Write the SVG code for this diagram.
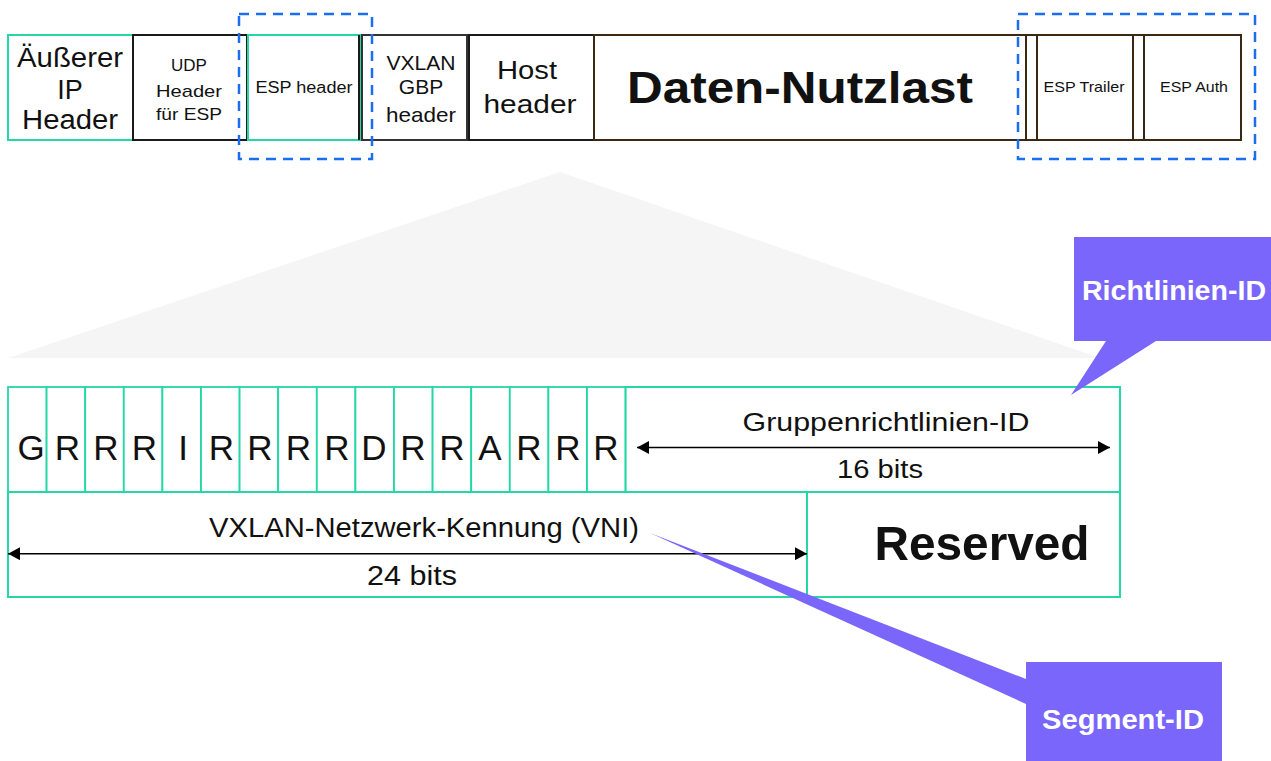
<svg xmlns="http://www.w3.org/2000/svg" width="1271" height="761" viewBox="0 0 1271 761">
<style>
.t{font-family:"Liberation Sans",Arial,sans-serif;fill:#111;text-anchor:middle}
.b{font-weight:bold}
.teal{fill:#fff;stroke:#23D8A6;stroke-width:2}
.blk{fill:#fff;stroke:#1a1a1a;stroke-width:2}
.gry{fill:#fff;stroke:#333;stroke-width:2}
.brn{fill:#fff;stroke:#3a2812;stroke-width:2}
.dash{fill:none;stroke:#1a6ff0;stroke-width:2.5;stroke-dasharray:10 7}
.cell{fill:#fff;stroke:#23D8A6;stroke-width:1.8}
.arr{stroke:#000;stroke-width:1.5;fill:none}
.call{fill:#7A66FB}
.ct{font-family:"Liberation Sans",Arial,sans-serif;fill:#fff;font-weight:bold;text-anchor:middle}
</style>
<defs>
<marker id="ah" markerUnits="userSpaceOnUse" markerWidth="12" markerHeight="13" refX="12" refY="6.5" orient="auto-start-reverse">
<path d="M0,0 L12,6.5 L0,13 Z" fill="#000"/>
</marker>
</defs>
<rect width="1271" height="761" fill="#fff"/>
<polygon id="zoom-wedge" points="560,172 1100,358 8,358" fill="#f5f5f5"/>

<g id="outer-ip"><rect class="teal" x="8" y="35" width="125" height="105"/>
<text class="t" font-size="27" x="70" y="67" textLength="106" lengthAdjust="spacingAndGlyphs">Äußerer</text>
<text class="t" font-size="27" x="70" y="99">IP</text>
<text class="t" font-size="27" x="70" y="129" textLength="96" lengthAdjust="spacingAndGlyphs">Header</text></g>
<g id="udp"><rect class="blk" x="133" y="35" width="114" height="105"/>
<text class="t" font-size="17" x="189" y="71">UDP</text>
<text class="t" font-size="17" x="189" y="97" textLength="66" lengthAdjust="spacingAndGlyphs">Header</text>
<text class="t" font-size="17" x="189" y="120" textLength="66" lengthAdjust="spacingAndGlyphs">für ESP</text></g>
<g id="esp-header"><rect class="teal" x="248" y="35" width="113" height="105"/>
<line x1="359" y1="35" x2="359" y2="140" stroke="#1a1a1a" stroke-width="2"/>
<text class="t" font-size="16" x="304" y="93" textLength="97" lengthAdjust="spacingAndGlyphs">ESP header</text></g>
<g id="vxlan-gbp"><rect class="gry" x="362" y="35" width="105" height="105"/>
<text class="t" font-size="21" x="421" y="70" textLength="69" lengthAdjust="spacingAndGlyphs">VXLAN</text>
<text class="t" font-size="21" x="421" y="94">GBP</text>
<text class="t" font-size="21" x="421" y="122" textLength="70" lengthAdjust="spacingAndGlyphs">header</text></g>
<g id="host-header"><rect class="blk" x="469" y="35" width="125" height="105"/>
<text class="t" font-size="26" x="527" y="79" textLength="60" lengthAdjust="spacingAndGlyphs">Host</text>
<text class="t" font-size="26" x="530" y="113" textLength="93" lengthAdjust="spacingAndGlyphs">header</text></g>
<g id="payload"><rect class="brn" x="594" y="35" width="432" height="105"/>
<text class="t b" font-size="45" x="800" y="103" textLength="346" lengthAdjust="spacingAndGlyphs">Daten-Nutzlast</text></g>
<g id="pad1"><rect class="brn" x="1026" y="35" width="11" height="105"/></g>
<g id="esp-trailer"><rect class="brn" x="1037" y="35" width="96" height="105"/>
<text class="t" font-size="15" x="1084" y="92" textLength="81" lengthAdjust="spacingAndGlyphs">ESP Trailer</text></g>
<g id="pad2"><rect class="brn" x="1133" y="35" width="11" height="105"/></g>
<g id="esp-auth"><rect class="brn" x="1144" y="35" width="97" height="105"/>
<text class="t" font-size="15" x="1194" y="92" textLength="68" lengthAdjust="spacingAndGlyphs">ESP Auth</text></g>
<g id="esp-group-1"><rect class="dash" x="239" y="14" width="133" height="145"/></g>
<g id="esp-group-2"><rect class="dash" x="1018" y="14" width="237" height="145"/></g>

<g id="flags">
<rect class="cell" x="8" y="387" width="38.6" height="105"/>
<rect class="cell" x="46.6" y="387" width="38.6" height="105"/>
<rect class="cell" x="85.2" y="387" width="38.6" height="105"/>
<rect class="cell" x="123.8" y="387" width="38.6" height="105"/>
<rect class="cell" x="162.4" y="387" width="38.6" height="105"/>
<rect class="cell" x="201" y="387" width="38.6" height="105"/>
<rect class="cell" x="239.6" y="387" width="38.6" height="105"/>
<rect class="cell" x="278.2" y="387" width="38.6" height="105"/>
<rect class="cell" x="316.8" y="387" width="38.6" height="105"/>
<rect class="cell" x="355.4" y="387" width="38.6" height="105"/>
<rect class="cell" x="394" y="387" width="38.6" height="105"/>
<rect class="cell" x="432.6" y="387" width="38.6" height="105"/>
<rect class="cell" x="471.2" y="387" width="38.6" height="105"/>
<rect class="cell" x="509.8" y="387" width="38.6" height="105"/>
<rect class="cell" x="548.4" y="387" width="38.6" height="105"/>
<rect class="cell" x="587" y="387" width="38.6" height="105"/>
<g class="t" font-size="35">
<text x="31" y="460">G</text><text x="67.5" y="460">R</text><text x="106" y="460">R</text><text x="144.5" y="460">R</text>
<text x="183" y="460">I</text><text x="221.5" y="460">R</text><text x="260" y="460">R</text><text x="298.5" y="460">R</text>
<text x="337" y="460">R</text><text x="374" y="460">D</text><text x="413" y="460">R</text><text x="452" y="460">R</text>
<text x="490" y="460">A</text><text x="529" y="460">R</text><text x="568" y="460">R</text><text x="606" y="460">R</text>
</g></g>
<g id="group-policy-id"><rect class="teal" x="625.6" y="387" width="494.4" height="105"/>
<text class="t" font-size="26" x="886" y="431" textLength="287" lengthAdjust="spacingAndGlyphs">Gruppenrichtlinien-ID</text>
<text class="t" font-size="26" x="880" y="478" textLength="86" lengthAdjust="spacingAndGlyphs">16 bits</text></g>
<g id="vni"><rect class="teal" x="8" y="492" width="799" height="105"/>
<text class="t" font-size="27" x="424" y="537" textLength="430" lengthAdjust="spacingAndGlyphs">VXLAN-Netzwerk-Kennung (VNI)</text>
<text class="t" font-size="27" x="412" y="585" textLength="90" lengthAdjust="spacingAndGlyphs">24 bits</text></g>
<g id="reserved"><rect class="teal" x="807" y="492" width="313" height="105"/>
<text class="t b" font-size="49" x="982" y="560" textLength="215" lengthAdjust="spacingAndGlyphs">Reserved</text></g>

<g id="connectors">
<line class="arr" x1="637" y1="447.5" x2="1110" y2="447.5" marker-start="url(#ah)" marker-end="url(#ah)"/>
<line class="arr" x1="8" y1="553.7" x2="807" y2="553.7" marker-start="url(#ah)" marker-end="url(#ah)"/>
</g>

<g id="callout-richtlinien"><path class="call" d="M1074,237 H1271 V341 H1156 L1071,395 L1106,341 H1074 Z"/>
<text class="ct" font-size="27" x="1174" y="300" textLength="184" lengthAdjust="spacingAndGlyphs">Richtlinien-ID</text></g>
<g id="callout-segment"><path class="call" d="M1026,662 H1222 V761 H1026 V704 L650,533 L1026,679 Z"/>
<text class="ct" font-size="27" x="1123" y="729" textLength="162" lengthAdjust="spacingAndGlyphs">Segment-ID</text></g>
</svg>
